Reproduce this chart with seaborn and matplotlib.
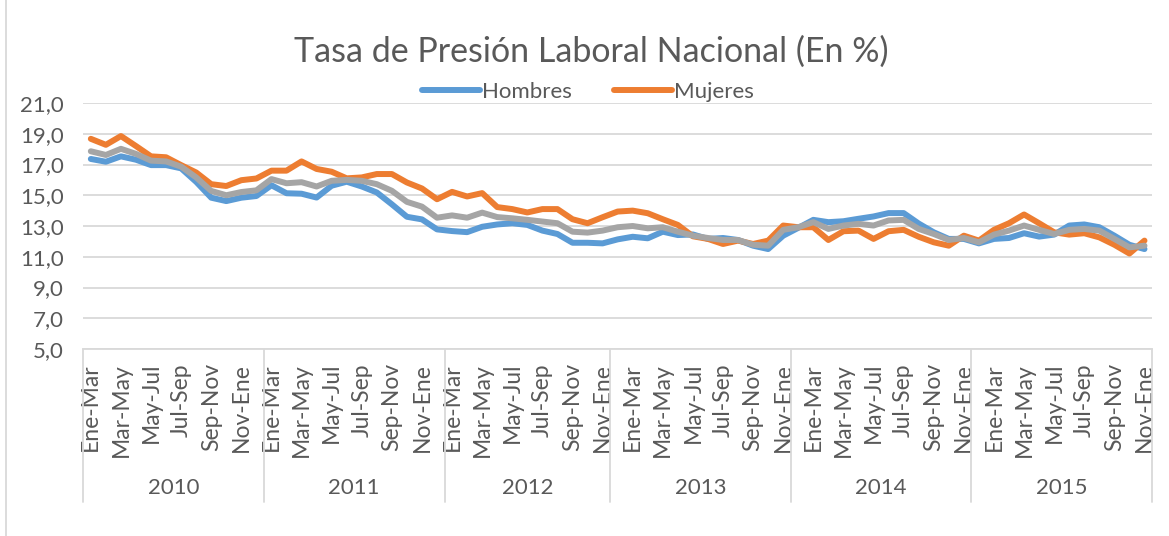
import numpy as np
import pandas as pd
import seaborn as sns
import matplotlib.pyplot as plt
from matplotlib.lines import Line2D
import matplotlib.transforms as mtransforms

years = ['2010', '2011', '2012', '2013', '2014', '2015']
quarters = ['Ene-Mar', 'Feb-Abr', 'Mar-May', 'Abr-Jun', 'May-Jul', 'Jun-Ago',
            'Jul-Sep', 'Ago-Oct', 'Sep-Nov', 'Oct-Dic', 'Nov-Ene', 'Dic-Feb']
year_quarters = [quarters, quarters, quarters[:11],
                 ['Dic-Feb'] + quarters[:11], ['Dic-Feb'] + quarters[:11], ['Dic-Feb'] + quarters[:11]]

hombres = [17.36, 17.18, 17.53, 17.31, 16.96, 16.96, 16.75, 15.87, 14.84, 14.62, 14.84, 14.95,
           15.65, 15.13, 15.10, 14.85, 15.62, 15.88, 15.57, 15.18, 14.41, 13.60, 13.43, 12.78,
           12.67, 12.60, 12.95, 13.10, 13.18, 13.07, 12.70, 12.48, 11.91, 11.91, 11.87,
           12.13, 12.30, 12.20, 12.63, 12.41, 12.45, 12.16, 12.22, 12.09, 11.72, 11.50, 12.37,
           12.88, 13.40, 13.25, 13.31, 13.47, 13.62, 13.84, 13.84, 13.16, 12.59, 12.16, 12.16,
           11.87, 12.16, 12.22, 12.53, 12.31, 12.44, 13.03, 13.10, 12.92, 12.37, 11.78, 11.50]
mujeres = [18.67, 18.28, 18.85, 18.20, 17.53, 17.47, 16.96, 16.48, 15.72, 15.60, 15.98, 16.09,
           16.60, 16.60, 17.20, 16.71, 16.53, 16.10, 16.16, 16.38, 16.38, 15.83, 15.44, 14.74,
           15.22, 14.92, 15.14, 14.23, 14.10, 13.88, 14.10, 14.10, 13.44, 13.18, 13.57,
           13.94, 14.00, 13.83, 13.44, 13.07, 12.33, 12.16, 11.83, 12.05, 11.83, 12.05, 13.03,
           12.92, 12.92, 12.09, 12.66, 12.70, 12.16, 12.66, 12.75, 12.30, 11.94, 11.72, 12.37,
           12.05, 12.75, 13.18, 13.75, 13.18, 12.59, 12.44, 12.53, 12.26, 11.78, 11.21, 12.05]
total = [17.86, 17.62, 18.02, 17.69, 17.25, 17.20, 16.86, 16.16, 15.28, 15.00, 15.21, 15.32,
         16.05, 15.78, 15.85, 15.57, 15.94, 16.00, 15.94, 15.72, 15.29, 14.57, 14.26, 13.54,
         13.69, 13.54, 13.87, 13.58, 13.50, 13.40, 13.29, 13.18, 12.63, 12.57, 12.70,
         12.92, 13.00, 12.85, 12.92, 12.63, 12.37, 12.22, 12.09, 12.09, 11.78, 11.72, 12.75,
         12.92, 13.25, 12.81, 13.03, 13.14, 13.03, 13.36, 13.40, 12.81, 12.48, 12.09, 12.22,
         11.94, 12.44, 12.70, 13.03, 12.75, 12.48, 12.75, 12.81, 12.70, 12.16, 11.61, 11.72]

labels = [q for ql in year_quarters for q in ql]
idx = np.arange(len(labels))
df = pd.DataFrame({'idx': idx, 'Hombres': hombres, 'Mujeres': mujeres, 'Total': total})

sns.set_style('white')
plt.rcParams['font.family'] = ['Lato', 'DejaVu Sans']
txt = '#595959'
grid = '#D9D9D9'

fig = plt.figure(figsize=(11.69, 5.36), dpi=100)
ax = fig.add_axes([83.3 / 1169, 1 - 349 / 536, (1152 - 83.3) / 1169, 246 / 536])

sns.lineplot(data=df, x='idx', y='Hombres', ax=ax, color='#5B9BD5', linewidth=4.3, label='Hombres')
sns.lineplot(data=df, x='idx', y='Mujeres', ax=ax, color='#ED7D31', linewidth=4.3, label='Mujeres')
sns.lineplot(data=df, x='idx', y='Total', ax=ax, color='#A5A5A5', linewidth=4.3, legend=False)

ax.set_xlim(-0.5, len(labels) - 0.5)
ax.set_ylim(5, 21)
ax.set_yticks(np.arange(5, 22, 2))
ax.set_yticklabels([f'{v:.1f}'.replace('.', ',') for v in np.arange(5, 22, 2)])
ax.yaxis.grid(True, color=grid, linewidth=1.3)
ax.set_axisbelow(True)
for s in ['top', 'right', 'left']:
    ax.spines[s].set_visible(False)
ax.spines['bottom'].set_color(grid)
ax.spines['bottom'].set_linewidth(1.3)
ax.tick_params(axis='y', length=0, pad=14, labelsize=16, labelcolor=txt)
ax.set_xticks(idx[::2])
ax.set_xticklabels(labels[::2], rotation=90, va='top', ha='center')
ax.tick_params(axis='x', length=0, pad=10, labelsize=16.5, labelcolor=txt)
ax.set_xlabel('')
ax.set_ylabel('')

# year group separators and labels
trans = mtransforms.blended_transform_factory(ax.transData, ax.transAxes)
bounds = np.cumsum([0] + [len(q) for q in year_quarters]) - 0.5
for b in bounds:
    ax.add_line(Line2D([b, b], [0, -0.622], transform=trans, color=grid, linewidth=1.3, clip_on=False))
for i, y in enumerate(years):
    ax.text((bounds[i] + bounds[i + 1]) / 2, -0.565, y, transform=trans,
            ha='center', va='center', fontsize=16, color=txt)

ax.legend_.remove()
handles, lbls = ax.get_legend_handles_labels()
fig.legend(handles, lbls, loc='center', bbox_to_anchor=(588 / 1169, 1 - 92 / 536), ncol=2,
           frameon=False, fontsize=16, handlelength=2.6, handletextpad=0.1, columnspacing=1.9,
           labelcolor=txt)

fig.text(591 / 1169, 1 - 52 / 536, 'Tasa de Presión Laboral Nacional (En %)',
         ha='center', va='center', fontsize=24.5, color=txt)

fig.add_artist(Line2D([6 / 1169, 6 / 1169], [0, 1], transform=fig.transFigure, color=grid, linewidth=1.3))

plt.savefig('out.png', dpi=100)
